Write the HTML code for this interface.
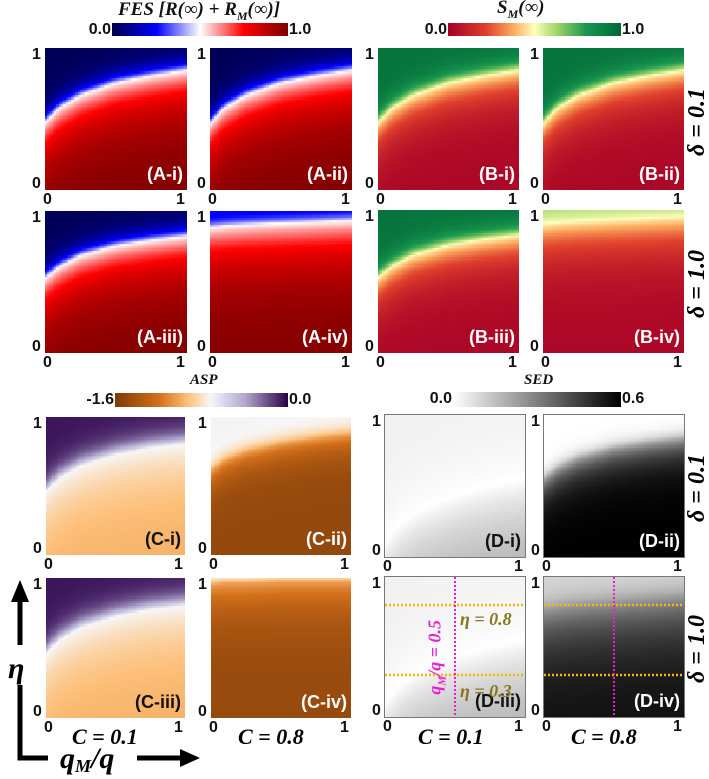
<!DOCTYPE html>
<html><head><meta charset="utf-8"><style>
body{margin:0;width:709px;height:779px;background:#fff;position:relative;overflow:hidden;font-family:"Liberation Sans",sans-serif}
.a{position:absolute}
.t{position:absolute;font-weight:bold;font-size:16px;color:#111;line-height:1}
.s{position:absolute;font-family:"Liberation Serif",serif;font-weight:bold;font-style:italic;color:#111;line-height:1;white-space:nowrap}
.lab{position:absolute;font-weight:bold;font-size:18px;line-height:1}
canvas{position:absolute}
</style></head><body>
<div class="s" style="left:118px;top:0px;font-size:19px">FES [R(∞) + R<sub style="font-size:12px">M</sub>(∞)]</div>
<div class="s" style="left:497px;top:-2px;font-size:19px">S<sub style="font-size:12px">M</sub>(∞)</div>
<div class="s" style="left:190px;top:373px;font-size:15px">ASP</div>
<div class="s" style="left:524px;top:373px;font-size:15px">SED</div>
<div id="root"></div>
<svg class="a" style="left:0;top:0" width="709" height="779">
<line x1="20" y1="600" x2="20" y2="645" stroke="#000" stroke-width="5"/>
<line x1="20" y1="685" x2="20" y2="758" stroke="#000" stroke-width="5"/>
<line x1="17.5" y1="758" x2="48" y2="758" stroke="#000" stroke-width="5"/>
<polygon points="20,580 11,602 29,602" fill="#000"/>
<line x1="137" y1="758" x2="182" y2="758" stroke="#000" stroke-width="5"/>
<polygon points="200,758 180,749 180,767" fill="#000"/>
<text x="8" y="678" font-family="Liberation Serif" font-weight="bold" font-style="italic" font-size="30">η</text>
<text x="60" y="768" font-family="Liberation Serif" font-weight="bold" font-style="italic" font-size="30">q<tspan font-size="18" dy="4">M</tspan><tspan dy="-4">/q</tspan></text>
<text x="72" y="744" font-family="Liberation Serif" font-weight="bold" font-style="italic" font-size="22">C = 0.1</text>
<text x="238" y="744" font-family="Liberation Serif" font-weight="bold" font-style="italic" font-size="22">C = 0.8</text>
<text x="418" y="744" font-family="Liberation Serif" font-weight="bold" font-style="italic" font-size="22">C = 0.1</text>
<text x="571" y="744" font-family="Liberation Serif" font-weight="bold" font-style="italic" font-size="22">C = 0.8</text>
<g font-family="Liberation Serif" font-weight="bold" font-style="italic" font-size="24">
<text transform="translate(704,122) rotate(-90)" text-anchor="middle">δ = 0.1</text>
<text transform="translate(704,284) rotate(-90)" text-anchor="middle">δ = 1.0</text>
<text transform="translate(704,488) rotate(-90)" text-anchor="middle">δ = 0.1</text>
<text transform="translate(704,649) rotate(-90)" text-anchor="middle">δ = 1.0</text>
</g>
</svg>
<script>
const fesStops=[[0,'#00004a'],[0.25,'#0000ff'],[0.5,'#ffffff'],[0.75,'#ff0000'],[1,'#7f0000']];
const smStops=[[0,'#a50026'],[0.22,'#e0402c'],[0.38,'#fdae61'],[0.5,'#ffffbf'],[0.62,'#a6d96a'],[0.8,'#1a9850'],[1,'#006837']];
const aspStops=[[0,'#7f3b08'],[0.25,'#d3701a'],[0.42,'#fdc07a'],[0.55,'#f7f7f7'],[0.75,'#b2abd2'],[1,'#2d004b']];
const sedStops=[[0,'#ffffff'],[1,'#000000']];
const qSamples=[0,0.1,0.25,0.5,0.75,1];
const bA1=[0.47,0.57,0.66,0.75,0.8,0.84];
const bA2=[0.46,0.57,0.66,0.75,0.8,0.84];
const bA3=[0.52,0.6,0.68,0.75,0.79,0.82];
const bA4=[0.88,0.89,0.9,0.91,0.92,0.93];
const bC1=[0.45,0.55,0.64,0.72,0.77,0.8];
const bC2=[0.6,0.68,0.74,0.8,0.84,0.87];
const bC4=[0.95,0.96,0.96,0.97,0.97,0.97];
const bD1=[0.1,0.22,0.33,0.43,0.5,0.55];
const bD2=[0.55,0.63,0.7,0.77,0.81,0.84];
const bD4=[0.78,0.8,0.82,0.84,0.86,0.88];
const vA=[0.02,0.5,1.0], vA4=[0.2,0.5,1.0];
const vB=[0.95,0.5,0.02], vB4=[0.62,0.45,0.02];
const vC1=[0.97,0.55,0.38], vC2=[0.56,0.35,0.06], vC4=[0.6,0.35,0.07];
const vD1=[0.06,0.0,0.4], vD2=[0.0,0.3,1.0], vD4=[0.15,0.35,0.95];
const panels=[
 {id:'A-i',x:45,y:48,w:142,h:142,cm:fesStops,b:bA1,v:vA,wt:0.06,wb:0.22,lc:'#fff'},
 {id:'A-ii',x:210,y:48,w:142,h:142,cm:fesStops,b:bA2,v:vA,wt:0.06,wb:0.22,lc:'#fff'},
 {id:'A-iii',x:45,y:211,w:142,h:142,cm:fesStops,b:bA3,v:vA,wt:0.06,wb:0.22,lc:'#fff'},
 {id:'A-iv',x:210,y:211,w:142,h:142,cm:fesStops,b:bA4,v:vA4,wt:0.04,wb:0.25,lc:'#fff'},
 {id:'B-i',x:378,y:48,w:141,h:142,cm:smStops,b:bA1,v:vB,wt:0.06,wb:0.16,lc:'#fff'},
 {id:'B-ii',x:543,y:48,w:141,h:142,cm:smStops,b:bA2,v:vB,wt:0.06,wb:0.16,lc:'#fff'},
 {id:'B-iii',x:378,y:210,w:141,h:143,cm:smStops,b:bA3,v:vB,wt:0.06,wb:0.16,lc:'#fff'},
 {id:'B-iv',x:543,y:210,w:141,h:143,cm:smStops,b:bA4,v:vB4,wt:0.06,wb:0.2,lc:'#fff'},
 {id:'C-i',x:46,y:417,w:139,h:138,cm:aspStops,b:bC1,v:vC1,wt:0.07,wb:0.3,lc:'#111'},
 {id:'C-ii',x:211,y:417,w:140,h:138,cm:aspStops,b:bC2,v:vC2,wt:0.05,wb:0.12,lc:'#fff'},
 {id:'C-iii',x:46,y:578,w:139,h:140,cm:aspStops,b:bC1,v:vC1,wt:0.07,wb:0.3,lc:'#111'},
 {id:'C-iv',x:211,y:578,w:140,h:140,cm:aspStops,b:bC4,v:vC4,wt:0.04,wb:0.2,lc:'#fff'},
 {id:'D-i',x:385,y:415,w:140,h:142,cm:sedStops,b:bD1,v:vD1,wt:0.3,wb:0.5,lc:'#111'},
 {id:'D-ii',x:544,y:415,w:140,h:142,cm:sedStops,b:bD2,v:vD2,wt:0.04,wb:0.12,lc:'#fff'},
 {id:'D-iii',x:385,y:577,w:140,h:140,cm:sedStops,b:bD1,v:vD1,wt:0.3,wb:0.5,lc:'#111'},
 {id:'D-iv',x:544,y:577,w:140,h:140,cm:sedStops,b:bD4,v:vD4,wt:0.08,wb:0.25,lc:'#fff'}
];
const cbars=[
 {name:'fes-colorbar',x:112,y:23,w:176,h:13,cm:fesStops,l:'0.0',r:'1.0'},
 {name:'sm-colorbar',x:448,y:23,w:173,h:13,cm:smStops,l:'0.0',r:'1.0'},
 {name:'asp-colorbar',x:115,y:393,w:173,h:14,cm:aspStops,l:'-1.6',r:'0.0'},
 {name:'sed-colorbar',x:453,y:392,w:168,h:15,cm:sedStops,l:'0.0',r:'0.6'}
];
function hex(c){return [1,3,5].map(i=>parseInt(c.substr(i,2),16));}
function cmap(st,t){t=Math.max(0,Math.min(1,t));for(let i=1;i<st.length;i++){if(t<=st[i][0]){const a=st[i-1],b=st[i];const f=(t-a[0])/(b[0]-a[0]);const A=hex(a[1]),B=hex(b[1]);return 'rgb('+A.map((v,k)=>Math.round(v+(B[k]-v)*f)).join(',')+')';}}return st[st.length-1][1];}
function bnd(arr,q){for(let i=1;i<qSamples.length;i++){if(q<=qSamples[i]){const f=(q-qSamples[i-1])/(qSamples[i]-qSamples[i-1]);return arr[i-1]+(arr[i]-arr[i-1])*f;}}return arr[arr.length-1];}
const root=document.getElementById('root');
const N=60;
panels.forEach(p=>{
 const c=document.createElement('canvas');c.width=p.w;c.height=p.h;
 c.style.left=p.x+'px';c.style.top=p.y+'px';
 
 
 root.appendChild(c);const g=c.getContext('2d');
 const cw=p.w/N,ch=p.h/N;
 for(let i=0;i<N;i++)for(let j=0;j<N;j++){
  const q=(i+0.5)/N,eta=1-(j+0.5)/N;const b=bnd(p.b,q);const d=b-eta;
  let v;if(d<0)v=p.v[0]+(p.v[1]-p.v[0])*Math.exp(d/p.wt);else v=p.v[1]+(p.v[2]-p.v[1])*(1-Math.exp(-d/p.wb));
  g.fillStyle=cmap(p.cm,v);g.fillRect(Math.floor(i*cw),Math.floor(j*ch),Math.ceil(cw)+1,Math.ceil(ch)+1);
 }
 if(p.id[0]==='D'){c.style.outline='1px solid #777';}
 const t1=document.createElement('div');t1.className='t';t1.textContent='1';t1.style.left=(p.x-13)+'px';t1.style.top=(p.y-1)+'px';
 
 root.appendChild(t1);
 const t0=document.createElement('div');t0.className='t';t0.textContent='0';t0.style.left=(p.x-13)+'px';t0.style.top=(p.y+p.h-14)+'px';
 
 root.appendChild(t0);
 const x0=document.createElement('div');x0.className='t';x0.textContent='0';x0.style.left=(p.x-2)+'px';x0.style.top=(p.y+p.h+2)+'px';
 
 root.appendChild(x0);
 const x1=document.createElement('div');x1.className='t';x1.textContent='1';x1.style.left=(p.x+p.w-11)+'px';x1.style.top=(p.y+p.h+2)+'px';
 
 root.appendChild(x1);
 const l=document.createElement('div');l.className='lab';l.textContent='('+p.id+')';l.style.color=p.lc;
 l.style.right=(709-p.x-p.w+4)+'px';l.style.top=(p.y+p.h-25)+'px';
 
 root.appendChild(l);
});
cbars.forEach(cb=>{
 const c=document.createElement('canvas');c.width=cb.w;c.height=cb.h;c.style.left=cb.x+'px';c.style.top=cb.y+'px';
 
 
 root.appendChild(c);const g=c.getContext('2d');
 for(let i=0;i<cb.w;i++){g.fillStyle=cmap(cb.cm,i/(cb.w-1));g.fillRect(i,0,1,cb.h);}
 const a=document.createElement('div');a.className='t';a.textContent=cb.l;a.style.right=(709-cb.x+1)+'px';a.style.top=(cb.y-1)+'px';
 
 root.appendChild(a);
 const b=document.createElement('div');b.className='t';b.textContent=cb.r;b.style.left=(cb.x+cb.w+1)+'px';b.style.top=(cb.y-1)+'px';
 
 root.appendChild(b);
});
const etaLines=[0.8,0.3];const qLine=0.5;
const svg=document.querySelector('svg');
['D-iii','D-iv'].forEach(id=>{
 const p=panels.find(o=>o.id===id);
 etaLines.forEach(e=>{const y=p.y+(1-e)*p.h;const ln=document.createElementNS('http://www.w3.org/2000/svg','line');
  ln.setAttribute('x1',p.x);ln.setAttribute('x2',p.x+p.w);ln.setAttribute('y1',y);ln.setAttribute('y2',y);
  ln.setAttribute('stroke','#f2b705');ln.setAttribute('stroke-width','2.5');ln.setAttribute('stroke-dasharray','2 2');
  
  svg.appendChild(ln);});
 const x=p.x+qLine*p.w;const v=document.createElementNS('http://www.w3.org/2000/svg','line');
 v.setAttribute('x1',x);v.setAttribute('x2',x);v.setAttribute('y1',p.y);v.setAttribute('y2',p.y+p.h);
 v.setAttribute('stroke','#e81fd0');v.setAttribute('stroke-width','2');v.setAttribute('stroke-dasharray','2 2');
 
 svg.appendChild(v);
});
</script>
<div class="s" style="left:460px;top:610px;font-size:18px;color:#8a7420">η = 0.8</div>
<div class="s" style="left:460px;top:682px;font-size:18px;color:#8a7420">η = 0.3</div>
<div class="s" style="left:387px;top:646px;width:100px;text-align:center;font-size:18px;color:#e81fd0;transform:rotate(-90deg);transform-origin:center">q<sub style="font-size:11px">M</sub>/q = 0.5</div>
</body></html>
